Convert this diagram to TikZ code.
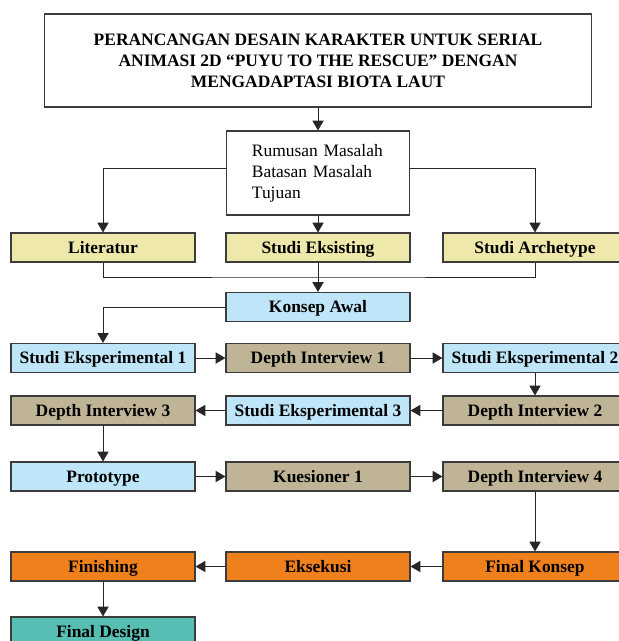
\documentclass[tikz,border=0pt]{standalone}
\usepackage{fontspec}
\setmainfont{Liberation Serif}
\usepackage{tikz}
\usetikzlibrary{calc}
\usetikzlibrary{arrows.meta}
\usepackage{color}
\definecolor{strawyellow}{RGB}{238, 232, 170}
\definecolor{paleblue}{RGB}{190, 229, 248}
\definecolor{khakigray}{RGB}{192, 180, 150}
\definecolor{carrot}{RGB}{240, 128, 28}
\definecolor{seateal}{RGB}{86, 190, 178}
\definecolor{boxline}{RGB}{60, 60, 60}

\tikzset{
    stagebox/.style={draw=boxline, line width=0.8pt, minimum width=4.6cm, minimum height=0.725cm,
                     inner sep=0pt, text height=10pt, text depth=2pt,
                     font=\fontsize{12.4}{14.9}\selectfont\bfseries},
    flow/.style={-{Triangle[width=8pt,length=7pt]}, line width=0.7pt, color=black!85},
    joint/.style={line width=0.7pt, color=black!85}
}

\begin{document}
\begin{tikzpicture}[x=0.025cm, y=-0.025cm]
            % Frame to fix the page size:
            \useasboundingbox                                                  (0, 0) rectangle (619, 641);
            % Title & problem statement
            \node[draw=boxline, line width=0.8pt, minimum width=13.65cm, minimum height=2.325cm,
                  align=center, font=\fontsize{12.4}{14.9}\selectfont\bfseries] (judul) at (318, 60.5)
                 {PERANCANGAN DESAIN KARAKTER UNTUK SERIAL\\
                  ANIMASI 2D \textquotedblleft PUYU TO THE RESCUE\textquotedblright{} DENGAN\\
                  MENGADAPTASI BIOTA LAUT};
            \node[draw=boxline, line width=0.8pt, minimum width=4.575cm, minimum height=2.1cm,
                  text width=3.3cm, align=left, font=\fontsize{12.4}{14.9}\selectfont] (rumusan) at (318, 173)
                 {Rumusan Masalah\\ Batasan Masalah\\ Tujuan};
            % Research
            \node[stagebox, fill=strawyellow] (literatur) at (103, 247.5) {Literatur};
            \node[stagebox, fill=strawyellow] (eksisting) at (318, 247.5) {Studi Eksisting};
            \node[stagebox, fill=strawyellow] (archetype) at (535, 247.5) {Studi Archetype};
            \node[stagebox, fill=paleblue]    (konsep)    at (318, 307)   {Konsep Awal};
            % Experiments & interviews
            \node[stagebox, fill=paleblue]    (eksp1)     at (103, 358)   {Studi Eksperimental 1};
            \node[stagebox, fill=khakigray]   (inter1)    at (318, 358)   {Depth Interview 1};
            \node[stagebox, fill=paleblue]    (eksp2)     at (535, 358)   {Studi Eksperimental 2};
            \node[stagebox, fill=khakigray]   (inter3)    at (103, 410.5) {Depth Interview 3};
            \node[stagebox, fill=paleblue]    (eksp3)     at (318, 410.5) {Studi Eksperimental 3};
            \node[stagebox, fill=khakigray]   (inter2)    at (535, 410.5) {Depth Interview 2};
            \node[stagebox, fill=paleblue]    (prototype) at (103, 476.5) {Prototype};
            \node[stagebox, fill=khakigray]   (kuesioner) at (318, 476.5) {Kuesioner 1};
            \node[stagebox, fill=khakigray]   (inter4)    at (535, 476.5) {Depth Interview 4};
            % Final stages
            \node[stagebox, fill=carrot]      (finishing) at (103, 566.5) {Finishing};
            \node[stagebox, fill=carrot]      (eksekusi)  at (318, 566.5) {Eksekusi};
            \node[stagebox, fill=carrot]      (final)     at (535, 566.5) {Final Konsep};
            \node[stagebox, fill=seateal]     (design)    at (103, 631.5) {Final Design};
            % Connectors
            \draw[flow] (judul.south) -- (rumusan.north);
            \draw[flow] ($(rumusan.west)+(0,-5)$) -| (literatur.north);
            \draw[flow] ($(rumusan.east)+(0,-5)$) -| (archetype.north);
            \draw[flow] (rumusan.south) -- (eksisting.north);
            \coordinate (gabung) at (318, 277);
            \draw[joint] (literatur.south) |- (gabung) -| (archetype.south);
            \draw[flow] (eksisting.south) -- (konsep.north);
            \draw[flow] (konsep.west) -| (eksp1.north);
            \draw[flow] (eksp1.east) -- (inter1.west);
            \draw[flow] (inter1.east) -- (eksp2.west);
            \draw[flow] (eksp2.south) -- (inter2.north);
            \draw[flow] (inter2.west) -- (eksp3.east);
            \draw[flow] (eksp3.west) -- (inter3.east);
            \draw[flow] (inter3.south) -- (prototype.north);
            \draw[flow] (prototype.east) -- (kuesioner.west);
            \draw[flow] (kuesioner.east) -- (inter4.west);
            \draw[flow] (inter4.south) -- (final.north);
            \draw[flow] (final.west) -- (eksekusi.east);
            \draw[flow] (eksekusi.west) -- (finishing.east);
            \draw[flow] (finishing.south) -- (design.north);
        \end{tikzpicture}
\end{document}
